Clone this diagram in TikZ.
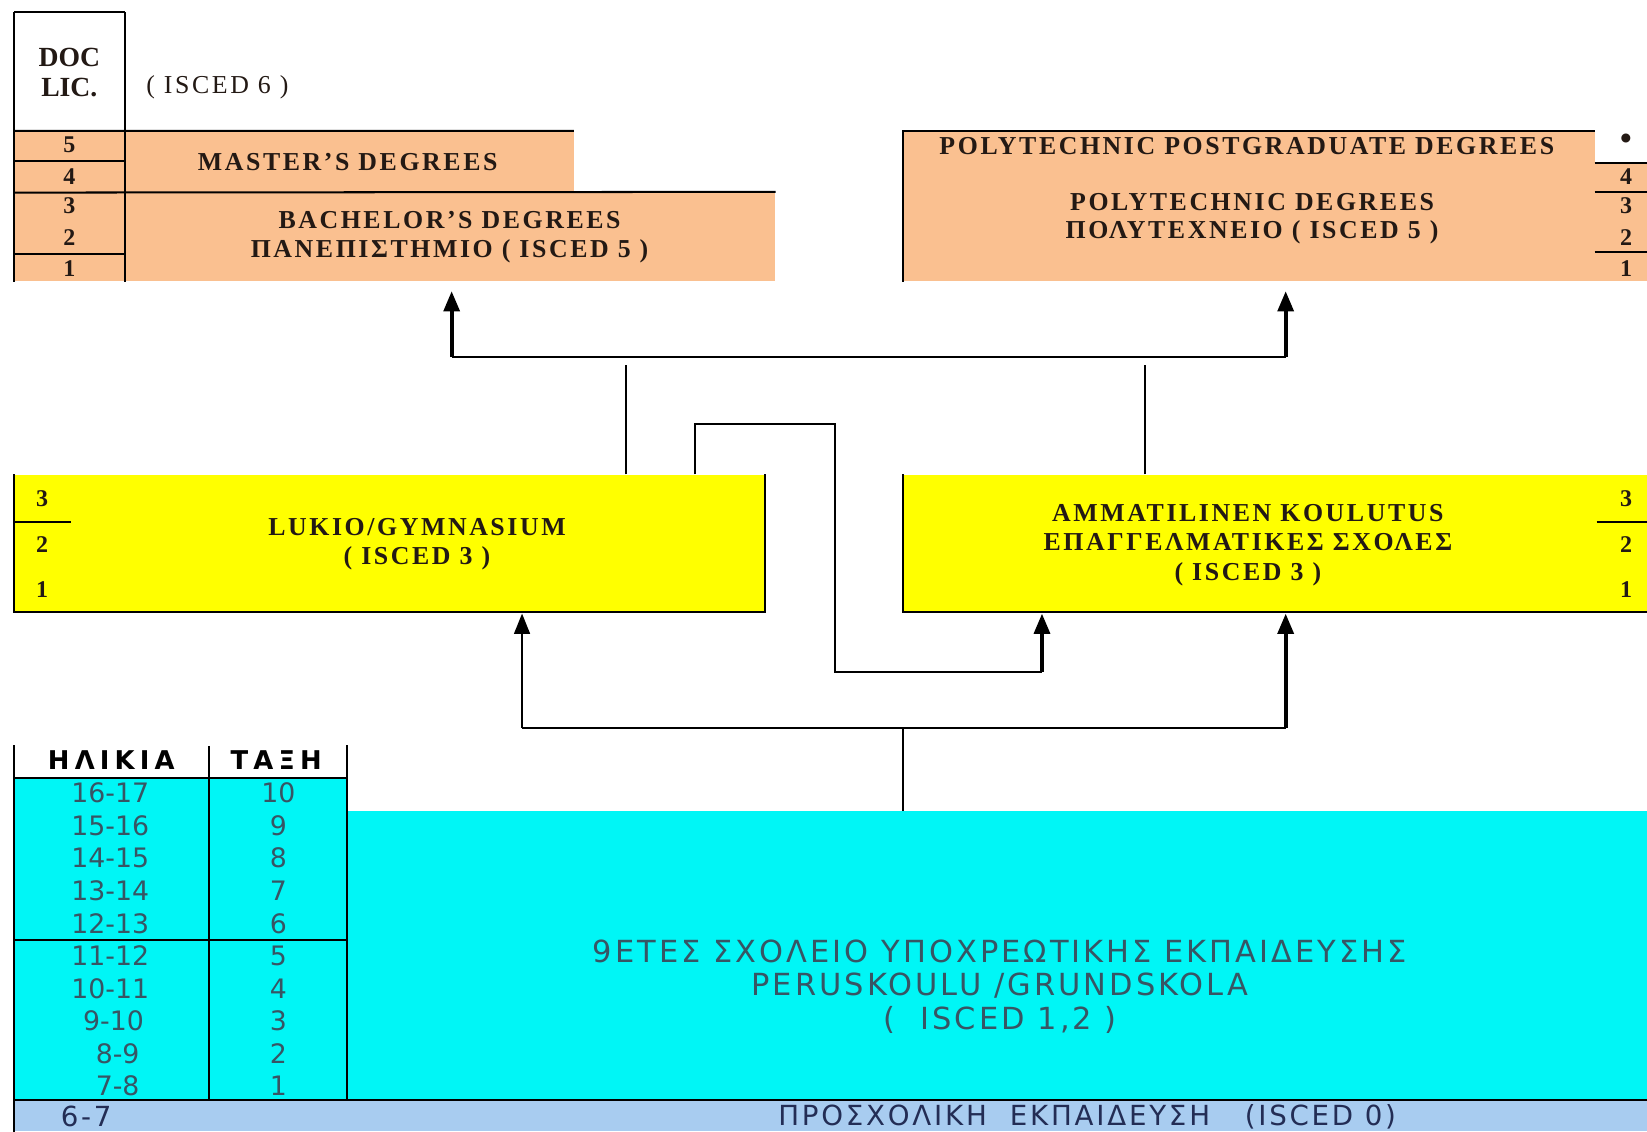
\documentclass[tikz,border=0pt]{standalone}
\usepackage{fontspec}
\setmainfont{Liberation Serif}
\newfontfamily\degfont[LetterSpace=10]{Liberation Serif}
\newfontfamily\agefont{DejaVu Sans}
\newfontfamily\headfont[LetterSpace=20]{DejaVu Sans}
\newfontfamily\basicfont[LetterSpace=10]{DejaVu Sans}
\newfontfamily\prefont[LetterSpace=10]{DejaVu Sans}
\usetikzlibrary{arrows.meta,positioning,calc,fit}
\definecolor{degorange}{RGB}{250,192,144}
\definecolor{lyceyellow}{RGB}{255,255,0}
\definecolor{basiccyan}{RGB}{0,246,246}
\definecolor{preblue}{RGB}{168,204,240}
\definecolor{inktext}{RGB}{35,25,20}
\definecolor{cyantext}{RGB}{55,85,100}
\definecolor{bluetext}{RGB}{35,45,85}

\begin{document}
\begin{tikzpicture}[x=0.02cm, y=-0.02cm,
    block/.style={inner sep=0pt, draw=none},
    edgeline/.style={line width=1.1pt},
    link/.style={line width=1.1pt},
    bigarrow/.style={-{Triangle[length=11pt,width=8.5pt]}, line width=2.2pt},
    thinarrow/.style={-{Triangle[length=11pt,width=8.5pt]}, line width=1.2pt},
    degtext/.style={text=inktext, align=center, font=\degfont\bfseries\fontsize{14}{16}\selectfont},
    numtext/.style={text=inktext, font=\bfseries\fontsize{13}{15}\selectfont},
    agetext/.style={text=cyantext, font=\agefont\fontsize{14.5}{17}\selectfont},
    headtext/.style={text=black, font=\headfont\bfseries\fontsize{14}{15}\selectfont},
    basictext/.style={text=cyantext, align=center, font=\basicfont\fontsize{16.5}{18.2}\selectfont},
    pretext/.style={text=bluetext, font=\prefont\fontsize{15}{16}\selectfont}]
    \useasboundingbox (0,0) rectangle (1568,1077);

    % Doctoral studies and university degrees
    \node[block, fit={(14,12) (119,125)}, fill=white] (doclic) {};
    \node[align=center, font=\bfseries\fontsize{15}{16}\selectfont, text=inktext] (doctxt) at (66,69) {DOC\\LIC.};
    \node[degtext, font=\degfont\fontsize{14}{16}\selectfont] (isced6) at (207,83) {( ISCED 6 )};
    \node[block, fit={(14,125) (119,268)}, fill=degorange] (lcol) {};
    \node[block, fit={(119,125) (546,183)}, fill=degorange] (master) {};
    \node[block, fit={(119,183) (738,268)}, fill=degorange] (bach) {};
    \node[degtext] (mastertxt) at (331,154) {MASTER’S DEGREES};
    \node[degtext] (bachtxt) at (428,226) {BACHELOR’S DEGREES\\ΠΑΝΕΠΙΣΤΗΜΙΟ ( ISCED 5 )};
    \node[numtext] (l5) at (66,138) {5};
    \node[numtext] (l4) at (66,168) {4};
    \node[numtext] (l3) at (66,196) {3};
    \node[numtext] (l2) at (66,226) {2};
    \node[numtext] (l1) at (66,256) {1};
    \draw[edgeline] (doclic.north west) -- (doclic.north east);
    \draw[edgeline] (doclic.north west) -- (lcol.south west);
    \draw[edgeline] (doclic.north east) -- (lcol.south east);
    \draw[edgeline] (lcol.north west) -- (master.north east);
    \draw[edgeline] (14,153) -- (119,153);
    \draw[edgeline] (lcol.west |- master.south) -- (bach.north east);
    \draw[edgeline] (14,242) -- (119,242);

    % Polytechnic degrees
    \node[block, fit={(860,125) (1518,268)}, fill=degorange] (poly) {};
    \node[block, fit={(1518,155) (1568,268)}, fill=degorange] (rcol) {};
    \node[degtext] (polypg) at (1187,139) {POLYTECHNIC POSTGRADUATE DEGREES};
    \node[degtext, font=\degfont\bfseries\fontsize{14}{15.4}\selectfont] (polydeg) at (1192,208) {POLYTECHNIC DEGREES\\ΠΟΛΥΤΕΧΝΕΙΟ ( ISCED 5 )};
    \node[numtext, font=\bfseries\fontsize{18}{18}\selectfont] (rdot) at (1548,135) {•};
    \node[numtext] (r4) at (1548,168) {4};
    \node[numtext] (r3) at (1548,196) {3};
    \node[numtext] (r2) at (1548,226) {2};
    \node[numtext] (r1) at (1548,256) {1};
    \draw[edgeline] (poly.south west) -- (poly.north west) -- (poly.north east);
    \draw[edgeline] (1518,155) -- (1568,155);
    \draw[edgeline] (1518,183) -- (1568,183);
    \draw[edgeline] (1518,240) -- (1568,240);

    % Upper secondary
    \node[block, fit={(14,452) (728,582)}, fill=lyceyellow] (lukio) {};
    \node[degtext, font=\degfont\bfseries\fontsize{14}{15.4}\selectfont] (lukiotxt) at (397,518) {LUKIO/GYMNASIUM\\( ISCED 3 )};
    \node[numtext] (k3) at (40,475) {3};
    \node[numtext] (k2) at (40,518) {2};
    \node[numtext] (k1) at (40,561) {1};
    \draw[edgeline] (lukio.north west) -- (lukio.south west) -- (lukio.south east) -- (lukio.north east);
    \draw[edgeline] (14,497) -- (68,497);

    \node[block, fit={(860,452) (1568,582)}, fill=lyceyellow] (ammat) {};
    \node[degtext] (ammattxt) at (1188,519) {AMMATILINEN KOULUTUS\\ΕΠΑΓΓΕΛΜΑΤΙΚΕΣ ΣΧΟΛΕΣ\\( ISCED 3 )};
    \node[numtext] (v3) at (1548,475) {3};
    \node[numtext] (v2) at (1548,518) {2};
    \node[numtext] (v1) at (1548,561) {1};
    \draw[edgeline] (ammat.north west) -- (ammat.south west) -- (ammat.south east);
    \draw[edgeline] (1520,497) -- (1568,497);

    % Basic education
    \node[block, fit={(14,710) (330,740)}, fill=white] (tabhead) {};
    \node[block, fit={(14,740) (330,1048)}, fill=basiccyan] (tabbody) {};
    \node[block, fit={(330,772) (1568,1048)}, fill=basiccyan] (basic) {};
    \node[block, fit={(14,1048) (1568,1077)}, fill=preblue] (pre) {};
    \node[headtext] (hage) at (106,724) {ΗΛΙΚΙΑ};
    \node[headtext] (hclass) at (263,724) {ΤΑΞΗ};
    \node[agetext] (a10) at (105,755) {16-17};  \node[agetext] (g10) at (265,755) {10};
    \node[agetext] (a9) at (105,786) {15-16};   \node[agetext] (g9) at (265,786) {9};
    \node[agetext] (a8) at (105,817) {14-15};   \node[agetext] (g8) at (265,817) {8};
    \node[agetext] (a7) at (105,848) {13-14};   \node[agetext] (g7) at (265,848) {7};
    \node[agetext] (a6) at (105,879) {12-13};   \node[agetext] (g6) at (265,879) {6};
    \node[agetext] (a5) at (105,910) {11-12};   \node[agetext] (g5) at (265,910) {5};
    \node[agetext] (a4) at (105,941) {10-11};   \node[agetext] (g4) at (265,941) {4};
    \node[agetext] (a3) at (108,972) {9-10};    \node[agetext] (g3) at (265,972) {3};
    \node[agetext] (a2) at (112,1003) {8-9};    \node[agetext] (g2) at (265,1003) {2};
    \node[agetext] (a1) at (112,1034) {7-8};    \node[agetext] (g1) at (265,1034) {1};
    \node[basictext] (basictxt) at (952,939) {9ΕΤΕΣ ΣΧΟΛΕΙΟ ΥΠΟΧΡΕΩΤΙΚΗΣ ΕΚΠΑΙΔΕΥΣΗΣ\\PERUSKOULU /GRUNDSKOLA\\(\ \ ISCED 1,2 )};
    \node[pretext] (age67) at (82,1063) {6-7};
    \node[pretext] (pretxt) at (1035,1063) {ΠΡΟΣΧΟΛΙΚΗ\ \ ΕΚΠΑΙΔΕΥΣΗ\ \ \ (ISCED 0)};
    \draw[edgeline] (tabhead.north west) -- (pre.south west);
    \draw[edgeline] (199,710) -- (199,1048);
    \draw[edgeline] (tabhead.north east) -- (tabbody.south east);
    \draw[edgeline] (tabhead.south west) -- (tabhead.south east);
    \draw[edgeline] (14,895) -- (330,895);
    \draw[edgeline] (pre.north west) -- (pre.north east);

    % Connectors to higher education
    \coordinate (topL) at (430,340);
    \coordinate (topR) at (1224,340);
    \coordinate (lkup) at (596,340);
    \coordinate (amup) at (1090,340);
    \draw[link] (topL) -- (topR);
    \draw[bigarrow, shorten >=5pt] (topL) -- (bach.south -| topL);
    \draw[bigarrow, shorten >=5pt] (topR) -- (poly.south -| topR);
    \draw[link, shorten >=4pt] (lukio.north -| lkup) -- (lkup);
    \draw[link, shorten >=4pt] (ammat.north -| amup) -- (amup);

    % Crossing from lukio to vocational
    \coordinate (cr1) at (662,404);
    \coordinate (cr2) at (795,640);
    \coordinate (cr3) at (992,640);
    \draw[link] (lukio.north -| cr1) -- (cr1) -- (cr1 -| cr2) -- (cr2) -- (cr3);
    \draw[bigarrow, shorten >=1pt] (cr3) -- (ammat.south -| cr3);

    % Connectors from basic education
    \coordinate (botM) at (860,693);
    \coordinate (botL) at (497,693);
    \coordinate (botR) at (1224,693);
    \draw[link] (basic.north -| botM) -- (botM);
    \draw[link] (botL) -- (botR);
    \draw[thinarrow, shorten >=1pt] (botL) -- (lukio.south -| botL);
    \draw[bigarrow, shorten >=1pt] (botR) -- (ammat.south -| botR);
\end{tikzpicture}
\end{document}
